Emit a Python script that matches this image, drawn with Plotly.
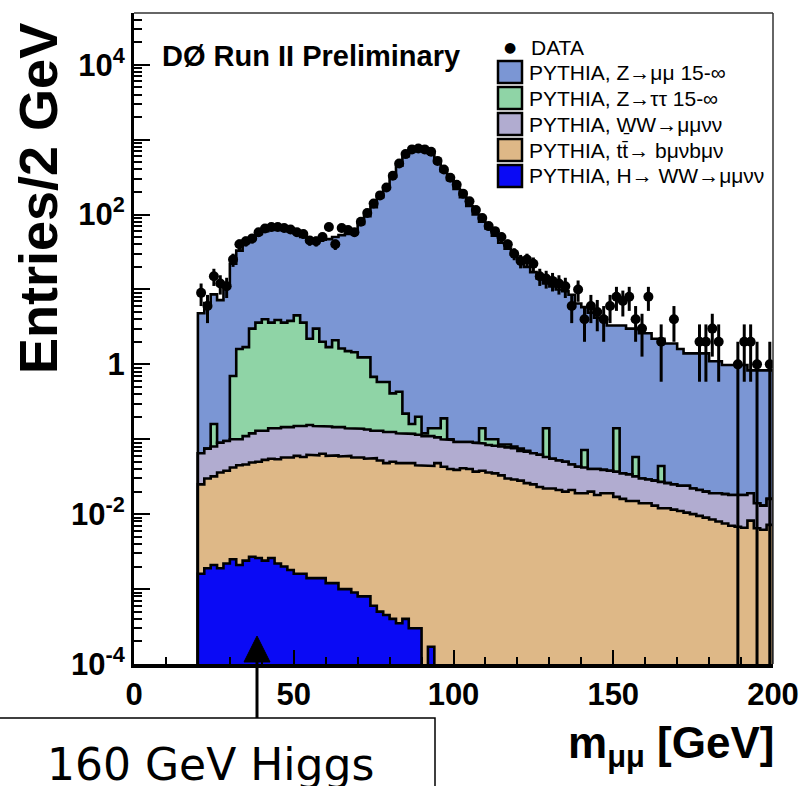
import numpy as np
import plotly.graph_objects as go

# ---------------- data ----------------
bin_lo = 20.0
bin_w = 2.0
centers = list(range(21, 200, 2))  # 90 bins, 20..200 GeV

# 0 = empty bin (not drawn on the log axis)
data_counts = [9, 6, 15, 12, 11, 25, 40, 44, 48, 58,
               65, 68, 68, 66, 63, 58, 55, 45, 44, 50,
               68, 40, 66, 62, 58, 80, 105, 140, 180, 230,
               330, 480, 640, 740, 760, 740, 690, 520, 400, 310,
               250, 190, 150, 115, 90, 70, 60, 50, 40, 30,
               24, 25, 22, 15, 14, 13, 12, 11, 6, 10,
               4, 6, 5, 4, 6, 8, 7, 8, 4, 3,
               8, 0, 2, 0, 4, 0, 0, 0, 2, 2,
               3, 2, 0, 0, 1, 2, 2, 1, 0, 1]

z_mumu_stack = [4.8, 6.6, 8.6, 7.2, 12, 22, 33, 42, 48, 55,
                60, 62, 63, 62, 60, 56, 50, 47, 45, 46,
                47, 50, 53, 55, 62, 75, 95, 125, 170, 230,
                320, 450, 600, 720, 760, 740, 650, 500, 380, 290,
                220, 170, 130, 100, 80, 65, 52, 42, 35, 29,
                24, 20, 17, 14, 12, 11, 10, 9.5, 8.5, 6.5,
                5.8, 4.9, 4.2, 4.2, 3.3, 3.3, 3.3, 3.0, 3.0, 2.6,
                2.6, 2.2, 2.2, 1.9, 1.9, 1.6, 1.4, 1.4, 1.4, 1.4,
                1.1, 1.1, 0.98, 0.98, 0.98, 0.98, 0.83, 0.83, 0.83, 0.83]

z_tautau_stack = [0.065, 0.075, 0.16, 0.09, 0.095, 0.7, 1.6, 1.7, 3.0, 3.6,
                  4.0, 3.6, 3.9, 3.6, 3.8, 4.5, 3.6, 2.2, 3.0, 2.0,
                  1.7, 2.1, 1.63, 1.5, 1.45, 1.24, 1.24, 0.68, 0.58, 0.58,
                  0.41, 0.43, 0.22, 0.16, 0.2, 0.12, 0.14, 0.14, 0.19, 0.1,
                  0.092, 0.093, 0.092, 0.09, 0.14, 0.1, 0.1, 0.085, 0.085, 0.08,
                  0.075, 0.07, 0.065, 0.062, 0.14, 0.055, 0.052, 0.05, 0.046, 0.043,
                  0.072, 0.04, 0.04, 0.039, 0.038, 0.14, 0.035, 0.034, 0.058, 0.03,
                  0.029, 0.028, 0.044, 0.026, 0.025, 0.024, 0.024, 0.022, 0.021, 0.02,
                  0.019, 0.019, 0.0185, 0.018, 0.018, 0.018, 0.019, 0.014, 0.013, 0.016]

ww_stack = [0.065, 0.075, 0.08, 0.09, 0.095, 0.1, 0.1, 0.11, 0.12, 0.13,
            0.13, 0.14, 0.14, 0.145, 0.145, 0.15, 0.15, 0.155, 0.15, 0.15,
            0.148, 0.145, 0.145, 0.14, 0.14, 0.138, 0.135, 0.13, 0.13, 0.125,
            0.125, 0.12, 0.12, 0.118, 0.115, 0.11, 0.11, 0.106, 0.1, 0.098,
            0.092, 0.093, 0.092, 0.09, 0.088, 0.084, 0.082, 0.08, 0.078, 0.076,
            0.07, 0.068, 0.065, 0.062, 0.058, 0.055, 0.052, 0.05, 0.046, 0.043,
            0.042, 0.04, 0.04, 0.039, 0.038, 0.037, 0.035, 0.034, 0.032, 0.03,
            0.029, 0.028, 0.027, 0.026, 0.025, 0.024, 0.024, 0.022, 0.021, 0.02,
            0.019, 0.019, 0.0185, 0.018, 0.018, 0.018, 0.019, 0.014, 0.013, 0.016]

ttbar_stack = [0.025, 0.030, 0.032, 0.036, 0.038, 0.042, 0.045, 0.046, 0.049, 0.05,
               0.053, 0.055, 0.054, 0.057, 0.057, 0.06, 0.058, 0.062, 0.061, 0.064,
               0.06, 0.061, 0.059, 0.06, 0.057, 0.057, 0.055, 0.056, 0.052, 0.048,
               0.05, 0.048, 0.047, 0.048, 0.045, 0.045, 0.044, 0.048, 0.043, 0.04,
               0.039, 0.041, 0.04, 0.037, 0.038, 0.036, 0.035, 0.033, 0.03, 0.029,
               0.028, 0.026, 0.025, 0.023, 0.022, 0.022, 0.021, 0.02, 0.021, 0.019,
               0.019, 0.02, 0.018, 0.019, 0.019, 0.017, 0.016, 0.015, 0.015, 0.014,
               0.014, 0.013, 0.012, 0.012, 0.0115, 0.011, 0.0105, 0.01, 0.0095, 0.009,
               0.0085, 0.008, 0.0075, 0.007, 0.0068, 0.0066, 0.0082, 0.0065, 0.0062, 0.0072]

higgs = [0.0016, 0.0019, 0.0021, 0.0019, 0.0022, 0.0025, 0.0021, 0.0024, 0.0027, 0.0026,
         0.0024, 0.0026, 0.0022, 0.002, 0.0018, 0.0016, 0.0016, 0.0014, 0.0014, 0.0014,
         0.0012, 0.0012, 0.001, 0.001, 0.0009, 0.0008, 0.0008, 0.0006, 0.0005, 0.00045,
         0.0004, 0.00035, 0.0004, 0.0003, 0.0003, 0, 0.00017, 0, 0, 0,
         0, 0, 0, 0, 0, 0, 0, 0, 0, 0,
         0, 0, 0, 0, 0, 0, 0, 0, 0, 0,
         0, 0, 0, 0, 0, 0, 0, 0, 0, 0,
         0, 0, 0, 0, 0, 0, 0, 0, 0, 0,
         0, 0, 0, 0, 0, 0, 0, 0, 0, 0]

series_names = ["PYTHIA, Z\u2192\u03bc\u03bc 15-\u221e",
                "PYTHIA, Z\u2192\u03c4\u03c4 15-\u221e",
                "PYTHIA, W\u0331W\u2192\u03bc\u03bc\u03bd\u03bd",
                "PYTHIA, tt\u0304\u2192 b\u03bc\u03bdb\u03bc\u03bd",
                "PYTHIA, H\u2192 WW\u2192\u03bc\u03bc\u03bd\u03bd"]
series_colors = ["#7b96d4", "#8fd4a6", "#b1acd0", "#deb887", "#0a0af5"]

y_tick_vals = [1e-4, 1e-3, 1e-2, 1e-1, 1, 10, 1e2, 1e3, 1e4]
y_tick_text = ["10<sup>-4</sup>", "", "10<sup>-2</sup>", "", "1", "",
               "10<sup>2</sup>", "", "10<sup>4</sup>"]
x_tick_vals = [0, 50, 100, 150, 200]

# ---------------- geometry helpers ----------------
W, H = 803, 786
L, R, T, B = 134, 30, 13, 122
PW, PH = W - L - R, H - T - B
FLOOR = 1e-7


def px(xp):
    return (xp - L) / PW


def py(yp):
    return (H - B - yp) / PH


def step_polygon(vals):
    n = len(vals)
    edges = [bin_lo + i * bin_w for i in range(n + 1)]
    xs, ys = [edges[0]], [FLOOR]
    for i, v in enumerate(vals):
        v = v if v > 0 else FLOOR
        xs += [edges[i], edges[i + 1]]
        ys += [v, v]
    xs.append(edges[-1])
    ys.append(FLOOR)
    return xs, ys


fig = go.Figure()
for vals, name, col in zip([z_mumu_stack, z_tautau_stack, ww_stack, ttbar_stack, higgs],
                           series_names, series_colors):
    xs, ys = step_polygon(vals)
    fig.add_trace(go.Scatter(x=xs, y=ys, mode="lines", fill="toself",
                             fillcolor=col, line=dict(color="black", width=2.6),
                             name=name, showlegend=False, hoverinfo="skip"))

# data points (only non-empty bins are drawn on a log axis)
n_arr = np.array(data_counts, dtype=float)
keep = n_arr > 0
xd = np.array(centers, dtype=float)[keep]
yd = n_arr[keep]
err = np.sqrt(yd)
err_minus = np.where(yd - err > 0, err, yd * (1 - 1e-9))
fig.add_trace(go.Scatter(x=xd, y=yd, mode="markers",
                         marker=dict(color="black", size=10),
                         error_y=dict(type="data", array=err, arrayminus=err_minus,
                                      color="black", thickness=3, width=0),
                         name="DATA", showlegend=False))

SANS = "Liberation Sans, Arial, Helvetica, sans-serif"

minor_y = [k * 10.0 ** e for e in range(-4, 5) for k in range(2, 10)]

fig.update_layout(
    width=W, height=H,
    margin=dict(l=L, r=R, t=T, b=B, autoexpand=False),
    paper_bgcolor="white", plot_bgcolor="white",
    xaxis=dict(range=[0, 200], tickvals=x_tick_vals, ticks="inside", ticklen=14,
               tickwidth=1.5, tickcolor="black", automargin=False,
               minor=dict(ticks="inside", ticklen=7, dtick=10, tickcolor="black", tickwidth=1.5),
               showgrid=False, zeroline=False, showline=True, linecolor="black",
               linewidth=3.5, ticklabeloverflow="allow",
               tickfont=dict(family=SANS, size=31, color="black", weight="bold")),
    yaxis=dict(type="log", range=[-4, 4.69], tickvals=y_tick_vals, ticktext=y_tick_text,
               ticks="inside", ticklen=16, tickwidth=1.5, tickcolor="black", automargin=False,
               minor=dict(ticks="inside", ticklen=8, tickvals=minor_y, tickcolor="black",
                          tickwidth=1.5),
               showgrid=False, zeroline=False, showline=True, linecolor="black",
               linewidth=3,
               tickfont=dict(family=SANS, size=31, color="black", weight="bold")),
)

shapes = []
# top/right frame
shapes.append(dict(type="line", xref="paper", yref="paper", x0=0, x1=1, y0=1, y1=1,
                   line=dict(color="#333333", width=1.5)))
shapes.append(dict(type="line", xref="paper", yref="paper", x0=1, x1=1, y0=0, y1=1,
                   line=dict(color="#333333", width=1.5)))

annotations = []
annotations.append(dict(xref="paper", yref="paper", x=px(160), y=py(56), xanchor="left",
                        yanchor="middle", showarrow=False,
                        text="<b>D\u00d8 Run II Preliminary</b>",
                        font=dict(family=SANS, size=29, color="black")))

# legend (manual)
annotations.append(dict(xref="paper", yref="paper", x=px(510), y=py(47), xanchor="center",
                        yanchor="middle", showarrow=False, text="\u25cf",
                        font=dict(family="DejaVu Sans", size=14, color="black")))
annotations.append(dict(xref="paper", yref="paper", x=px(529), y=py(47), xanchor="left",
                        yanchor="middle", showarrow=False, text="DATA",
                        font=dict(family=SANS, size=21, color="black")))
row_y = [72, 98, 124, 150, 176]
for ry, name, col in zip(row_y, series_names, series_colors):
    shapes.append(dict(type="rect", xref="paper", yref="paper",
                       x0=px(498), x1=px(522), y0=py(ry + 11), y1=py(ry - 11),
                       fillcolor=col, line=dict(color="black", width=2.5)))
    annotations.append(dict(xref="paper", yref="paper", x=px(527), y=py(ry), xanchor="left",
                            yanchor="middle", showarrow=False, text=name,
                            font=dict(family=SANS, size=21, color="black")))

# axis titles
annotations.append(dict(xref="paper", yref="paper", x=px(38), y=py(199), xanchor="center",
                        yanchor="middle", showarrow=False, textangle=-90,
                        text="<b>Entries/2 GeV</b>",
                        font=dict(family=SANS, size=54, color="black")))
annotations.append(dict(xref="paper", yref="paper", x=px(776), y=py(746), xanchor="right",
                        yanchor="middle", showarrow=False,
                        text="<b>m<sub>\u03bc\u03bc</sub> [GeV]</b>",
                        font=dict(family=SANS, size=44, color="black")))

# Higgs call-out box, arrow and text
shapes.append(dict(type="rect", xref="paper", yref="paper", x0=px(-5), x1=px(435),
                   y0=py(795), y1=py(718), fillcolor="white",
                   line=dict(color="black", width=1.5)))
shapes.append(dict(type="line", xref="paper", yref="paper", x0=px(257), x1=px(257),
                   y0=py(718), y1=py(660), line=dict(color="black", width=3)))
shapes.append(dict(type="path", xref="paper", yref="paper",
                   path=f"M {px(244)},{py(662)} L {px(270)},{py(662)} L {px(257)},{py(636)} Z",
                   fillcolor="black", line=dict(color="black", width=1)))
annotations.append(dict(xref="paper", yref="paper", x=px(210), y=py(764), xanchor="center",
                        yanchor="middle", showarrow=False, text="160 GeV Higgs",
                        font=dict(family="DejaVu Sans", size=44, color="black")))

fig.update_layout(shapes=shapes, annotations=annotations)
fig.write_html("out.html", config={"displayModeBar": False},
               post_script="document.body.style.margin='0';document.body.style.overflow='hidden';")
